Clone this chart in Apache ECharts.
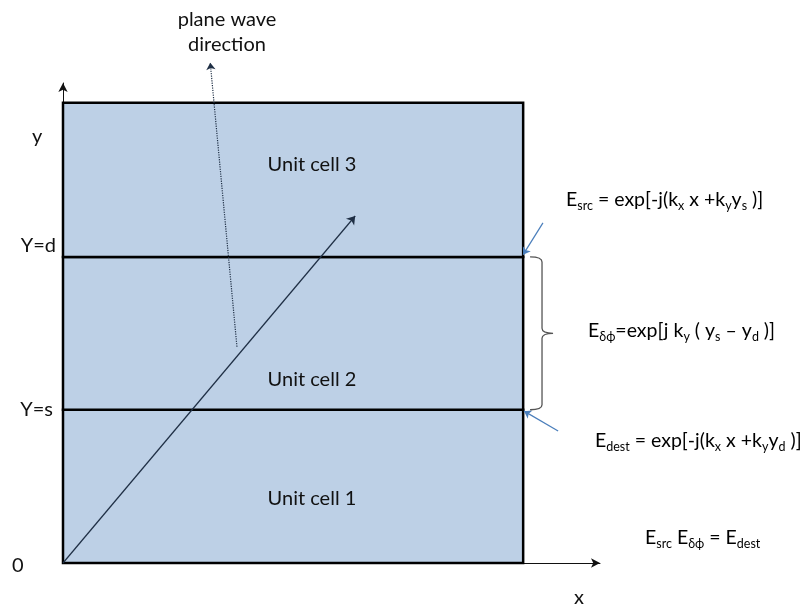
<!DOCTYPE html>
<html>
<head>
<meta charset="utf-8">
<script src="https://cdn.jsdelivr.net/npm/echarts@6/dist/echarts.min.js"></script>
<style>
  html, body { margin: 0; padding: 0; background: #fff; }
  #main { width: 811px; height: 610px; }
</style>
</head>
<body>
<div id="main"></div>
<script>
// box is a unit square, cell boundaries in y
const cellEdges = [0, 0.333, 0.665, 1];
const cellNames = ['Unit cell 1', 'Unit cell 2', 'Unit cell 3'];
const cellLabelY = [0.141, 0.398, 0.865];
const cellLabelX = 0.541;

// k vector (solid) and plane wave direction (dotted)
const kVector = [[0, 0], [0.635, 0.754]];
const waveDir = [[0.378, 0.470], [0.320, 1.087]];
// blue pointers to the boundaries
const srcPointer = [[1.043, 0.739], [1.0, 0.670]];
const destPointer = [[1.076, 0.287], [1.002, 0.330]];
// brace between Y=s and Y=d
const braceX = [1.015, 1.041, 1.065];

const FONT = 'Lato';
const mainEl = document.getElementById('main');
const chart = echarts.init(mainEl);

const rich = {
  m: { fontSize: 19.5, lineHeight: 24, color: '#111', fontFamily: FONT },
  s: { fontSize: 12.5, lineHeight: 12, color: '#111', fontFamily: FONT, verticalAlign: 'bottom' }
};

function eqText(x, y, text) {
  return {
    type: 'text', left: x, top: y - 12,
    style: { text: text, rich: rich, fontFamily: FONT }
  };
}
function plainText(x, y, text, align) {
  return {
    type: 'text', x: x, y: y,
    style: { text: text, fontSize: 20, fontFamily: FONT, fill: '#111',
      align: align || 'left', verticalAlign: 'middle' }
  };
}

const option = {
  animation: false,
  grid: { left: 63, right: 211, top: 83, bottom: 47 },
  xAxis: {
    type: 'value', min: 0, max: 1.167,
    axisLine: { show: true, lineStyle: { color: '#111', width: 1 },
      symbol: ['none', 'arrow'], symbolSize: [7, 9] },
    axisTick: { show: false }, axisLabel: { show: false }, splitLine: { show: false }
  },
  yAxis: {
    type: 'value', min: 0, max: 1.043, offset: 4,
    axisLine: { show: true, lineStyle: { color: '#111', width: 1 },
      symbol: ['none', 'arrow'], symbolSize: [7, 9] },
    axisTick: { show: false }, axisLabel: { show: false }, splitLine: { show: false }
  },
  series: [
    {
      type: 'custom',
      clip: false,
      data: cellNames.map((n, i) => [i]),
      renderItem: (params, api) => {
        const i = api.value(0);
        const p0 = api.coord([0, cellEdges[i + 1]]);
        const p1 = api.coord([1, cellEdges[i]]);
        const c = api.coord([cellLabelX, cellLabelY[i]]);
        return {
          type: 'group',
          children: [
            { type: 'rect', shape: { x: p0[0], y: p0[1], width: p1[0] - p0[0], height: p1[1] - p0[1] },
              style: { fill: '#bdd0e6', stroke: '#000', lineWidth: 2.5 } },
            { type: 'text', x: c[0], y: c[1], z2: 5,
              style: { text: cellNames[i], fontSize: 20, fontFamily: FONT, fill: '#111',
                align: 'center', verticalAlign: 'middle' } }
          ]
        };
      },
      z: 1
    },
    {
      type: 'lines', coordinateSystem: 'cartesian2d', z: 3, clip: false,
      symbol: ['none', 'arrow'], symbolSize: 8,
      lineStyle: { color: '#1f2f45', width: 1.2, opacity: 1 },
      data: [{ coords: kVector }]
    },
    {
      type: 'lines', coordinateSystem: 'cartesian2d', z: 3, clip: false,
      symbol: ['none', 'arrow'], symbolSize: 7,
      lineStyle: { color: '#1f2f45', width: 1.2, type: 'dotted', opacity: 1 },
      data: [{ coords: waveDir }]
    },
    {
      type: 'lines', coordinateSystem: 'cartesian2d', z: 3, clip: false,
      symbol: ['none', 'arrow'], symbolSize: 7,
      lineStyle: { color: '#4a7ebb', width: 1.2, opacity: 1 },
      data: [{ coords: srcPointer }, { coords: destPointer }]
    },
    {
      type: 'custom', z: 3, clip: false,
      data: [[0]],
      renderItem: (params, api) => {
        const yTop = cellEdges[2], yBot = cellEdges[1], yMid = (yTop + yBot) / 2;
        const a = api.coord([braceX[0], yTop]);
        const b = api.coord([braceX[1], yTop]);
        const m = api.coord([braceX[2], yMid]);
        const c = api.coord([braceX[0], yBot]);
        const r = 5;
        const d = 'M' + a[0] + ',' + a[1] +
          ' Q' + b[0] + ',' + a[1] + ' ' + b[0] + ',' + (a[1] + r) +
          ' L' + b[0] + ',' + (m[1] - r) +
          ' Q' + b[0] + ',' + m[1] + ' ' + m[0] + ',' + m[1] +
          ' Q' + b[0] + ',' + m[1] + ' ' + b[0] + ',' + (m[1] + r) +
          ' L' + b[0] + ',' + (c[1] - r) +
          ' Q' + b[0] + ',' + c[1] + ' ' + a[0] + ',' + c[1];
        return { type: 'path', shape: { pathData: d },
          style: { fill: 'none', stroke: '#555', lineWidth: 1.3 } };
      }
    }
  ],
  graphic: [
    plainText(227, 20, 'plane wave', 'center'),
    plainText(227, 45, 'direction', 'center'),
    plainText(32, 137, 'y'),
    plainText(56, 246, 'Y=d', 'right'),
    plainText(53, 410, 'Y=s', 'right'),
    plainText(12, 566, '0'),
    plainText(574, 598, 'x'),
    eqText(566, 202, '{m|E}{s|src}{m| = exp[-j(k}{s|x}{m| x +k}{s|y}{m|y}{s|s}{m| )]}'),
    eqText(588, 333, '{m|E}{s|δϕ}{m|=exp[j k}{s|y}{m| ( y}{s|s}{m| – y}{s|d}{m| )]}'),
    eqText(595, 443, '{m|E}{s|dest}{m| = exp[-j(k}{s|x}{m| x +k}{s|y}{m|y}{s|d}{m| )]}'),
    eqText(645, 540, '{m|E}{s|src}{m| E}{s|δϕ}{m| = E}{s|dest}')
  ]
};

chart.setOption(option);
</script>
</body>
</html>
